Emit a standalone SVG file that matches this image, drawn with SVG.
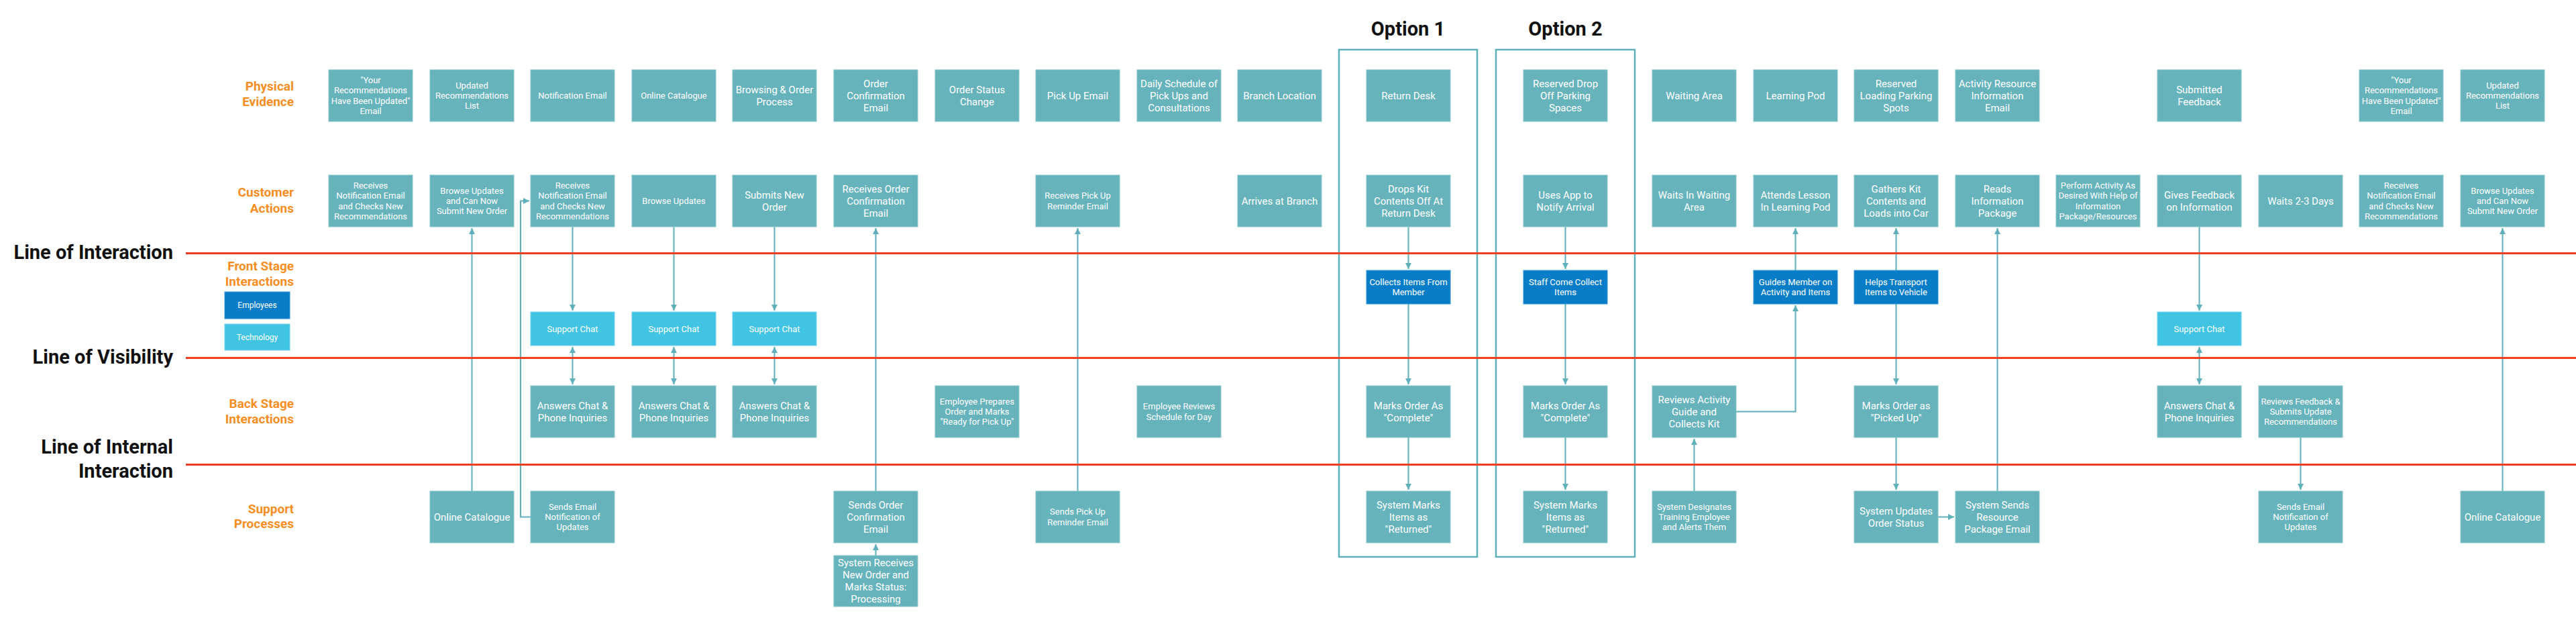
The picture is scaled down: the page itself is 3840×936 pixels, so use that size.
<svg xmlns="http://www.w3.org/2000/svg" width="3840" height="936" viewBox="0 0 3840 936">
<style>
.node rect{fill:#67b3bc;stroke:#86c4cb;stroke-width:1}
.emp rect{fill:#097dc7;stroke:#3393d2;stroke-width:1}
.tech rect{fill:#41c4e4;stroke:#6dd1ea;stroke-width:1}
text{font-family:Roboto,"Liberation Sans",sans-serif}
.b{fill:#fff;text-anchor:middle}
.s12{font-size:12px}.s13{font-size:13px}.s15{font-size:15px}
.lane{font-weight:700;font-size:19px;fill:#f78d1e;text-anchor:end}
.big{font-weight:700;font-size:29px;fill:#111;text-anchor:end}
.opt{font-weight:700;font-size:29px;fill:#111;text-anchor:middle}
.conn path{fill:none;stroke:#5fb0bb;stroke-width:2}
.red{stroke:#ef3e23;stroke-width:3}
.frame{fill:none;stroke:#5fb0bb;stroke-width:2.5}
</style>
<defs>
<marker id="ah" viewBox="0 0 10 10" refX="10" refY="5" markerWidth="9" markerHeight="9" markerUnits="userSpaceOnUse" orient="auto-start-reverse"><path d="M0,0 L10,5 L0,10 z" fill="#5fb0bb"/></marker>
</defs>
<rect width="3840" height="936" fill="#fff"/>

<!-- lane labels -->
<g id="lane-labels">
<text class="lane" x="438" y="135">Physical</text><text class="lane" x="438" y="157.7">Evidence</text>
<text class="lane" x="438" y="293.3">Customer</text><text class="lane" x="438" y="316.7">Actions</text>
<text class="lane" x="438" y="403.3">Front Stage</text><text class="lane" x="438" y="425.7">Interactions</text>
<text class="lane" x="438" y="608">Back Stage</text><text class="lane" x="438" y="630.7">Interactions</text>
<text class="lane" x="438" y="764.7">Support</text><text class="lane" x="438" y="787.3">Processes</text>
<text class="big" x="258" y="386">Line of Interaction</text>
<text class="big" x="258" y="542">Line of Visibility</text>
<text class="big" x="258" y="676">Line of Internal</text>
<text class="big" x="258" y="712">Interaction</text>
</g>
<g id="legend-employees" class="emp"><rect x="335" y="435" width="97" height="40"/><text class="b s12" x="383.5" y="459">Employees</text></g>
<g id="legend-technology" class="tech"><rect x="335" y="483" width="97" height="39"/><text class="b s12" x="383.5" y="507">Technology</text></g>

<!-- option frames -->
<g id="option1"><rect class="frame" x="1996" y="74" width="206" height="756"/><text class="opt" x="2099" y="53">Option 1</text></g>
<g id="option2"><rect class="frame" x="2230" y="74" width="207" height="756"/><text class="opt" x="2333.5" y="53">Option 2</text></g>

<!-- connectors -->
<g id="connectors" class="conn">
<path d="M703.5,732 V340" marker-end="url(#ah)"/>
<path d="M791,770.5 H776 V299.5 H789" marker-end="url(#ah)"/>
<path d="M853.5,338 V463" marker-end="url(#ah)"/>
<path d="M1004.5,338 V463" marker-end="url(#ah)"/>
<path d="M1154.5,338 V463" marker-end="url(#ah)"/>
<path d="M853.5,517 V573" marker-start="url(#ah)" marker-end="url(#ah)"/>
<path d="M1004.5,517 V573" marker-start="url(#ah)" marker-end="url(#ah)"/>
<path d="M1154.5,517 V573" marker-start="url(#ah)" marker-end="url(#ah)"/>
<path d="M1305.5,732 V340" marker-end="url(#ah)"/>
<path d="M1305.5,828 V811" marker-end="url(#ah)"/>
<path d="M1606.5,732 V340" marker-end="url(#ah)"/>
<path d="M2099.5,338 V401" marker-end="url(#ah)"/>
<path d="M2099.5,453 V573" marker-end="url(#ah)"/>
<path d="M2099.5,652 V730" marker-end="url(#ah)"/>
<path d="M2333.5,338 V401" marker-end="url(#ah)"/>
<path d="M2333.5,453 V573" marker-end="url(#ah)"/>
<path d="M2333.5,652 V730" marker-end="url(#ah)"/>
<path d="M2525.5,732 V654" marker-end="url(#ah)"/>
<path d="M2588,613.5 H2676.5 V455" marker-end="url(#ah)"/>
<path d="M2676.5,403 V340" marker-end="url(#ah)"/>
<path d="M2826.5,403 V340" marker-end="url(#ah)"/>
<path d="M2826.5,453 V573" marker-end="url(#ah)"/>
<path d="M2826.5,652 V730" marker-end="url(#ah)"/>
<path d="M2889,770.5 H2913" marker-end="url(#ah)"/>
<path d="M2977.5,732 V340" marker-end="url(#ah)"/>
<path d="M3278.5,338 V463" marker-end="url(#ah)"/>
<path d="M3278.5,517 V573" marker-start="url(#ah)" marker-end="url(#ah)"/>
<path d="M3429.5,652 V730" marker-end="url(#ah)"/>
<path d="M3730.5,732 V340" marker-end="url(#ah)"/>
</g>

<!-- red separator lines -->
<g id="lines">
<line class="red" x1="277" y1="377.5" x2="3840" y2="377.5"/>
<line class="red" x1="277" y1="533.5" x2="3840" y2="533.5"/>
<line class="red" x1="277" y1="692.5" x2="3840" y2="692.5"/>
</g>

<!-- Physical evidence -->
<g id="pe0" class="node"><rect x="490" y="104" width="125" height="77"/><text class="b s13" x="552.5" y="142.5"><tspan x="552.5" dy="-18.55">"Your</tspan><tspan x="552.5" dy="15.4">Recommendations</tspan><tspan x="552.5" dy="15.4">Have Been Updated"</tspan><tspan x="552.5" dy="15.4">Email</tspan></text></g>
<g id="pe1" class="node"><rect x="641" y="104" width="125" height="77"/><text class="b s13" x="703.5" y="142.5"><tspan x="703.5" dy="-10.85">Updated</tspan><tspan x="703.5" dy="15.4">Recommendations</tspan><tspan x="703.5" dy="15.4">List</tspan></text></g>
<g id="pe2" class="node"><rect x="791" y="104" width="125" height="77"/><text class="b s13" x="853.5" y="147">Notification Email</text></g>
<g id="pe3" class="node"><rect x="942" y="104" width="125" height="77"/><text class="b s13" x="1004.5" y="147">Online Catalogue</text></g>
<g id="pe4" class="node"><rect x="1092" y="104" width="125" height="77"/><text class="b s15" x="1154.5" y="142.5"><tspan x="1154.5" dy="-3.85">Browsing &amp; Order</tspan><tspan x="1154.5" dy="18.2">Process</tspan></text></g>
<g id="pe5" class="node"><rect x="1243" y="104" width="125" height="77"/><text class="b s15" x="1305.5" y="142.5"><tspan x="1305.5" dy="-12.95">Order</tspan><tspan x="1305.5" dy="18.2">Confirmation</tspan><tspan x="1305.5" dy="18.2">Email</tspan></text></g>
<g id="pe6" class="node"><rect x="1394" y="104" width="125" height="77"/><text class="b s15" x="1456.5" y="142.5"><tspan x="1456.5" dy="-3.85">Order Status</tspan><tspan x="1456.5" dy="18.2">Change</tspan></text></g>
<g id="pe7" class="node"><rect x="1544" y="104" width="125" height="77"/><text class="b s15" x="1606.5" y="147.75">Pick Up Email</text></g>
<g id="pe8" class="node"><rect x="1695" y="104" width="125" height="77"/><text class="b s15" x="1757.5" y="142.5"><tspan x="1757.5" dy="-12.95">Daily Schedule of</tspan><tspan x="1757.5" dy="18.2">Pick Ups and</tspan><tspan x="1757.5" dy="18.2">Consultations</tspan></text></g>
<g id="pe9" class="node"><rect x="1845" y="104" width="125" height="77"/><text class="b s15" x="1907.5" y="147.75">Branch Location</text></g>
<g id="pe10" class="node"><rect x="2037" y="104" width="125" height="77"/><text class="b s15" x="2099.5" y="147.75">Return Desk</text></g>
<g id="pe11" class="node"><rect x="2271" y="104" width="125" height="77"/><text class="b s15" x="2333.5" y="142.5"><tspan x="2333.5" dy="-12.95">Reserved Drop</tspan><tspan x="2333.5" dy="18.2">Off Parking</tspan><tspan x="2333.5" dy="18.2">Spaces</tspan></text></g>
<g id="pe12" class="node"><rect x="2463" y="104" width="125" height="77"/><text class="b s15" x="2525.5" y="147.75">Waiting Area</text></g>
<g id="pe13" class="node"><rect x="2614" y="104" width="125" height="77"/><text class="b s15" x="2676.5" y="147.75">Learning Pod</text></g>
<g id="pe14" class="node"><rect x="2764" y="104" width="125" height="77"/><text class="b s15" x="2826.5" y="142.5"><tspan x="2826.5" dy="-12.95">Reserved</tspan><tspan x="2826.5" dy="18.2">Loading Parking</tspan><tspan x="2826.5" dy="18.2">Spots</tspan></text></g>
<g id="pe15" class="node"><rect x="2915" y="104" width="125" height="77"/><text class="b s15" x="2977.5" y="142.5"><tspan x="2977.5" dy="-12.95">Activity Resource</tspan><tspan x="2977.5" dy="18.2">Information</tspan><tspan x="2977.5" dy="18.2">Email</tspan></text></g>
<g id="pe17" class="node"><rect x="3216" y="104" width="125" height="77"/><text class="b s15" x="3278.5" y="142.5"><tspan x="3278.5" dy="-3.85">Submitted</tspan><tspan x="3278.5" dy="18.2">Feedback</tspan></text></g>
<g id="pe19" class="node"><rect x="3517" y="104" width="125" height="77"/><text class="b s13" x="3579.5" y="142.5"><tspan x="3579.5" dy="-18.55">"Your</tspan><tspan x="3579.5" dy="15.4">Recommendations</tspan><tspan x="3579.5" dy="15.4">Have Been Updated"</tspan><tspan x="3579.5" dy="15.4">Email</tspan></text></g>
<g id="pe20" class="node"><rect x="3668" y="104" width="125" height="77"/><text class="b s13" x="3730.5" y="142.5"><tspan x="3730.5" dy="-10.85">Updated</tspan><tspan x="3730.5" dy="15.4">Recommendations</tspan><tspan x="3730.5" dy="15.4">List</tspan></text></g>

<!-- Customer actions -->
<g id="ca0" class="node"><rect x="490" y="261" width="125" height="77"/><text class="b s13" x="552.5" y="299.5"><tspan x="552.5" dy="-18.55">Receives</tspan><tspan x="552.5" dy="15.4">Notification Email</tspan><tspan x="552.5" dy="15.4">and Checks New</tspan><tspan x="552.5" dy="15.4">Recommendations</tspan></text></g>
<g id="ca1" class="node"><rect x="641" y="261" width="125" height="77"/><text class="b s13" x="703.5" y="299.5"><tspan x="703.5" dy="-10.85">Browse Updates</tspan><tspan x="703.5" dy="15.4">and Can Now</tspan><tspan x="703.5" dy="15.4">Submit New Order</tspan></text></g>
<g id="ca2" class="node"><rect x="791" y="261" width="125" height="77"/><text class="b s13" x="853.5" y="299.5"><tspan x="853.5" dy="-18.55">Receives</tspan><tspan x="853.5" dy="15.4">Notification Email</tspan><tspan x="853.5" dy="15.4">and Checks New</tspan><tspan x="853.5" dy="15.4">Recommendations</tspan></text></g>
<g id="ca3" class="node"><rect x="942" y="261" width="125" height="77"/><text class="b s13" x="1004.5" y="304">Browse Updates</text></g>
<g id="ca4" class="node"><rect x="1092" y="261" width="125" height="77"/><text class="b s15" x="1154.5" y="299.5"><tspan x="1154.5" dy="-3.85">Submits New</tspan><tspan x="1154.5" dy="18.2">Order</tspan></text></g>
<g id="ca5" class="node"><rect x="1243" y="261" width="125" height="77"/><text class="b s15" x="1305.5" y="299.5"><tspan x="1305.5" dy="-12.95">Receives Order</tspan><tspan x="1305.5" dy="18.2">Confirmation</tspan><tspan x="1305.5" dy="18.2">Email</tspan></text></g>
<g id="ca7" class="node"><rect x="1544" y="261" width="125" height="77"/><text class="b s13" x="1606.5" y="299.5"><tspan x="1606.5" dy="-3.15">Receives Pick Up</tspan><tspan x="1606.5" dy="15.4">Reminder Email</tspan></text></g>
<g id="ca9" class="node"><rect x="1845" y="261" width="125" height="77"/><text class="b s15" x="1907.5" y="304.75">Arrives at Branch</text></g>
<g id="ca10" class="node"><rect x="2037" y="261" width="125" height="77"/><text class="b s15" x="2099.5" y="299.5"><tspan x="2099.5" dy="-12.95">Drops Kit</tspan><tspan x="2099.5" dy="18.2">Contents Off At</tspan><tspan x="2099.5" dy="18.2">Return Desk</tspan></text></g>
<g id="ca11" class="node"><rect x="2271" y="261" width="125" height="77"/><text class="b s15" x="2333.5" y="299.5"><tspan x="2333.5" dy="-3.85">Uses App to</tspan><tspan x="2333.5" dy="18.2">Notify Arrival</tspan></text></g>
<g id="ca12" class="node"><rect x="2463" y="261" width="125" height="77"/><text class="b s15" x="2525.5" y="299.5"><tspan x="2525.5" dy="-3.85">Waits In Waiting</tspan><tspan x="2525.5" dy="18.2">Area</tspan></text></g>
<g id="ca13" class="node"><rect x="2614" y="261" width="125" height="77"/><text class="b s15" x="2676.5" y="299.5"><tspan x="2676.5" dy="-3.85">Attends Lesson</tspan><tspan x="2676.5" dy="18.2">In Learning Pod</tspan></text></g>
<g id="ca14" class="node"><rect x="2764" y="261" width="125" height="77"/><text class="b s15" x="2826.5" y="299.5"><tspan x="2826.5" dy="-12.95">Gathers Kit</tspan><tspan x="2826.5" dy="18.2">Contents and</tspan><tspan x="2826.5" dy="18.2">Loads into Car</tspan></text></g>
<g id="ca15" class="node"><rect x="2915" y="261" width="125" height="77"/><text class="b s15" x="2977.5" y="299.5"><tspan x="2977.5" dy="-12.95">Reads</tspan><tspan x="2977.5" dy="18.2">Information</tspan><tspan x="2977.5" dy="18.2">Package</tspan></text></g>
<g id="ca16" class="node"><rect x="3065" y="261" width="125" height="77"/><text class="b s13" x="3127.5" y="299.5"><tspan x="3127.5" dy="-18.55">Perform Activity As</tspan><tspan x="3127.5" dy="15.4">Desired With Help of</tspan><tspan x="3127.5" dy="15.4">Information</tspan><tspan x="3127.5" dy="15.4">Package/Resources</tspan></text></g>
<g id="ca17" class="node"><rect x="3216" y="261" width="125" height="77"/><text class="b s15" x="3278.5" y="299.5"><tspan x="3278.5" dy="-3.85">Gives Feedback</tspan><tspan x="3278.5" dy="18.2">on Information</tspan></text></g>
<g id="ca18" class="node"><rect x="3367" y="261" width="125" height="77"/><text class="b s15" x="3429.5" y="304.75">Waits 2-3 Days</text></g>
<g id="ca19" class="node"><rect x="3517" y="261" width="125" height="77"/><text class="b s13" x="3579.5" y="299.5"><tspan x="3579.5" dy="-18.55">Receives</tspan><tspan x="3579.5" dy="15.4">Notification Email</tspan><tspan x="3579.5" dy="15.4">and Checks New</tspan><tspan x="3579.5" dy="15.4">Recommendations</tspan></text></g>
<g id="ca20" class="node"><rect x="3668" y="261" width="125" height="77"/><text class="b s13" x="3730.5" y="299.5"><tspan x="3730.5" dy="-10.85">Browse Updates</tspan><tspan x="3730.5" dy="15.4">and Can Now</tspan><tspan x="3730.5" dy="15.4">Submit New Order</tspan></text></g>

<!-- Front stage: employees -->
<g id="fs10" class="emp"><rect x="2037" y="403" width="125" height="50"/><text class="b s13" x="2099.5" y="428"><tspan x="2099.5" dy="-3.15">Collects Items From</tspan><tspan x="2099.5" dy="15.4">Member</tspan></text></g>
<g id="fs11" class="emp"><rect x="2271" y="403" width="125" height="50"/><text class="b s13" x="2333.5" y="428"><tspan x="2333.5" dy="-3.15">Staff Come Collect</tspan><tspan x="2333.5" dy="15.4">Items</tspan></text></g>
<g id="fs13" class="emp"><rect x="2614" y="403" width="125" height="50"/><text class="b s13" x="2676.5" y="428"><tspan x="2676.5" dy="-3.15">Guides Member on</tspan><tspan x="2676.5" dy="15.4">Activity and Items</tspan></text></g>
<g id="fs14" class="emp"><rect x="2764" y="403" width="125" height="50"/><text class="b s13" x="2826.5" y="428"><tspan x="2826.5" dy="-3.15">Helps Transport</tspan><tspan x="2826.5" dy="15.4">Items to Vehicle</tspan></text></g>

<!-- Front stage: technology -->
<g id="tc2" class="tech"><rect x="791" y="465" width="125" height="50"/><text class="b s13" x="853.5" y="494.5">Support Chat</text></g>
<g id="tc3" class="tech"><rect x="942" y="465" width="125" height="50"/><text class="b s13" x="1004.5" y="494.5">Support Chat</text></g>
<g id="tc4" class="tech"><rect x="1092" y="465" width="125" height="50"/><text class="b s13" x="1154.5" y="494.5">Support Chat</text></g>
<g id="tc17" class="tech"><rect x="3216" y="465" width="125" height="50"/><text class="b s13" x="3278.5" y="494.5">Support Chat</text></g>

<!-- Back stage -->
<g id="bs2" class="node"><rect x="791" y="575" width="125" height="77"/><text class="b s15" x="853.5" y="613.5"><tspan x="853.5" dy="-3.85">Answers Chat &amp;</tspan><tspan x="853.5" dy="18.2">Phone Inquiries</tspan></text></g>
<g id="bs3" class="node"><rect x="942" y="575" width="125" height="77"/><text class="b s15" x="1004.5" y="613.5"><tspan x="1004.5" dy="-3.85">Answers Chat &amp;</tspan><tspan x="1004.5" dy="18.2">Phone Inquiries</tspan></text></g>
<g id="bs4" class="node"><rect x="1092" y="575" width="125" height="77"/><text class="b s15" x="1154.5" y="613.5"><tspan x="1154.5" dy="-3.85">Answers Chat &amp;</tspan><tspan x="1154.5" dy="18.2">Phone Inquiries</tspan></text></g>
<g id="bs6" class="node"><rect x="1394" y="575" width="125" height="77"/><text class="b s13" x="1456.5" y="613.5"><tspan x="1456.5" dy="-10.85">Employee Prepares</tspan><tspan x="1456.5" dy="15.4">Order and Marks</tspan><tspan x="1456.5" dy="15.4">"Ready for Pick Up"</tspan></text></g>
<g id="bs8" class="node"><rect x="1695" y="575" width="125" height="77"/><text class="b s13" x="1757.5" y="613.5"><tspan x="1757.5" dy="-3.15">Employee Reviews</tspan><tspan x="1757.5" dy="15.4">Schedule for Day</tspan></text></g>
<g id="bs10" class="node"><rect x="2037" y="575" width="125" height="77"/><text class="b s15" x="2099.5" y="613.5"><tspan x="2099.5" dy="-3.85">Marks Order As</tspan><tspan x="2099.5" dy="18.2">"Complete"</tspan></text></g>
<g id="bs11" class="node"><rect x="2271" y="575" width="125" height="77"/><text class="b s15" x="2333.5" y="613.5"><tspan x="2333.5" dy="-3.85">Marks Order As</tspan><tspan x="2333.5" dy="18.2">"Complete"</tspan></text></g>
<g id="bs12" class="node"><rect x="2463" y="575" width="125" height="77"/><text class="b s15" x="2525.5" y="613.5"><tspan x="2525.5" dy="-12.95">Reviews Activity</tspan><tspan x="2525.5" dy="18.2">Guide and</tspan><tspan x="2525.5" dy="18.2">Collects Kit</tspan></text></g>
<g id="bs14" class="node"><rect x="2764" y="575" width="125" height="77"/><text class="b s15" x="2826.5" y="613.5"><tspan x="2826.5" dy="-3.85">Marks Order as</tspan><tspan x="2826.5" dy="18.2">"Picked Up"</tspan></text></g>
<g id="bs17" class="node"><rect x="3216" y="575" width="125" height="77"/><text class="b s15" x="3278.5" y="613.5"><tspan x="3278.5" dy="-3.85">Answers Chat &amp;</tspan><tspan x="3278.5" dy="18.2">Phone Inquiries</tspan></text></g>
<g id="bs18" class="node"><rect x="3367" y="575" width="125" height="77"/><text class="b s13" x="3429.5" y="613.5"><tspan x="3429.5" dy="-10.85">Reviews Feedback &amp;</tspan><tspan x="3429.5" dy="15.4">Submits Update</tspan><tspan x="3429.5" dy="15.4">Recommendations</tspan></text></g>

<!-- Support processes -->
<g id="sp1" class="node"><rect x="641" y="732" width="125" height="77"/><text class="b s15" x="703.5" y="775.75">Online Catalogue</text></g>
<g id="sp2" class="node"><rect x="791" y="732" width="125" height="77"/><text class="b s13" x="853.5" y="770.5"><tspan x="853.5" dy="-10.85">Sends Email</tspan><tspan x="853.5" dy="15.4">Notification of</tspan><tspan x="853.5" dy="15.4">Updates</tspan></text></g>
<g id="sp5" class="node"><rect x="1243" y="732" width="125" height="77"/><text class="b s15" x="1305.5" y="770.5"><tspan x="1305.5" dy="-12.95">Sends Order</tspan><tspan x="1305.5" dy="18.2">Confirmation</tspan><tspan x="1305.5" dy="18.2">Email</tspan></text></g>
<g id="sp7" class="node"><rect x="1544" y="732" width="125" height="77"/><text class="b s13" x="1606.5" y="770.5"><tspan x="1606.5" dy="-3.15">Sends Pick Up</tspan><tspan x="1606.5" dy="15.4">Reminder Email</tspan></text></g>
<g id="sp10" class="node"><rect x="2037" y="732" width="125" height="77"/><text class="b s15" x="2099.5" y="770.5"><tspan x="2099.5" dy="-12.95">System Marks</tspan><tspan x="2099.5" dy="18.2">Items as</tspan><tspan x="2099.5" dy="18.2">"Returned"</tspan></text></g>
<g id="sp11" class="node"><rect x="2271" y="732" width="125" height="77"/><text class="b s15" x="2333.5" y="770.5"><tspan x="2333.5" dy="-12.95">System Marks</tspan><tspan x="2333.5" dy="18.2">Items as</tspan><tspan x="2333.5" dy="18.2">"Returned"</tspan></text></g>
<g id="sp12" class="node"><rect x="2463" y="732" width="125" height="77"/><text class="b s13" x="2525.5" y="770.5"><tspan x="2525.5" dy="-10.85">System Designates</tspan><tspan x="2525.5" dy="15.4">Training Employee</tspan><tspan x="2525.5" dy="15.4">and Alerts Them</tspan></text></g>
<g id="sp14" class="node"><rect x="2764" y="732" width="125" height="77"/><text class="b s15" x="2826.5" y="770.5"><tspan x="2826.5" dy="-3.85">System Updates</tspan><tspan x="2826.5" dy="18.2">Order Status</tspan></text></g>
<g id="sp15" class="node"><rect x="2915" y="732" width="125" height="77"/><text class="b s15" x="2977.5" y="770.5"><tspan x="2977.5" dy="-12.95">System Sends</tspan><tspan x="2977.5" dy="18.2">Resource</tspan><tspan x="2977.5" dy="18.2">Package Email</tspan></text></g>
<g id="sp18" class="node"><rect x="3367" y="732" width="125" height="77"/><text class="b s13" x="3429.5" y="770.5"><tspan x="3429.5" dy="-10.85">Sends Email</tspan><tspan x="3429.5" dy="15.4">Notification of</tspan><tspan x="3429.5" dy="15.4">Updates</tspan></text></g>
<g id="sp20" class="node"><rect x="3668" y="732" width="125" height="77"/><text class="b s15" x="3730.5" y="775.75">Online Catalogue</text></g>
<g id="sp5b" class="node"><rect x="1243" y="828" width="125" height="76"/><text class="b s15" x="1305.5" y="866"><tspan x="1305.5" dy="-21.75">System Receives</tspan><tspan x="1305.5" dy="18">New Order and</tspan><tspan x="1305.5" dy="18">Marks Status:</tspan><tspan x="1305.5" dy="18">Processing</tspan></text></g>
</svg>
